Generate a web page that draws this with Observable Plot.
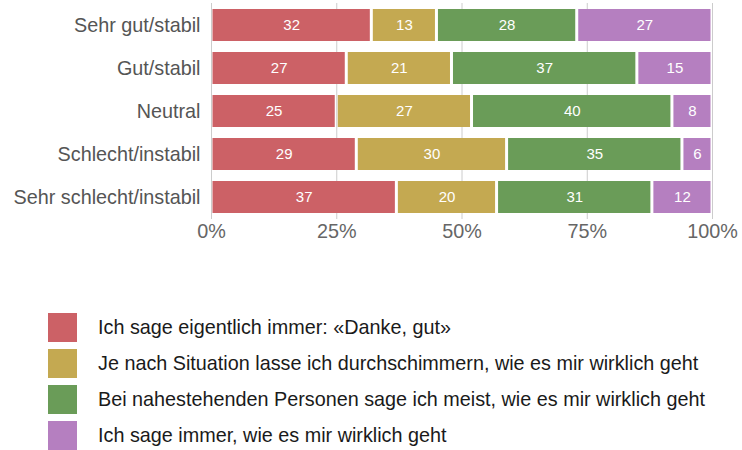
<!DOCTYPE html>
<html>
<head>
<meta charset="utf-8">
<script src="https://cdn.jsdelivr.net/npm/d3@7"></script>
<script src="https://cdn.jsdelivr.net/npm/@observablehq/plot@0.6"></script>
<style>
  html, body { margin: 0; padding: 0; background: #fff; }
  body { width: 742px; height: 450px; overflow: hidden; font-family: "Liberation Sans", Arial, Helvetica, sans-serif; }
  #legend { margin-top: 63px; margin-left: 48px; }
  .item { display: flex; align-items: center; height: 29px; margin-bottom: 7px; }
  .sw { width: 29px; height: 29px; margin-right: 21px; }
  .lab { font-size: 19.8px; color: #1a1a1a; white-space: nowrap; }
</style>
</head>
<body>
<div id="chart"></div>
<div id="legend"></div>
<script>
const categories = ["Sehr gut/stabil", "Gut/stabil", "Neutral", "Schlecht/instabil", "Sehr schlecht/instabil"];
const series = [
  "Ich sage eigentlich immer: «Danke, gut»",
  "Je nach Situation lasse ich durchschimmern, wie es mir wirklich geht",
  "Bei nahestehenden Personen sage ich meist, wie es mir wirklich geht",
  "Ich sage immer, wie es mir wirklich geht"
];
const colors = ["#cc6166", "#c4a951", "#6a9c58", "#b57fc0"];
const values = [
  [32, 13, 28, 27],
  [27, 21, 37, 15],
  [25, 27, 40, 8],
  [29, 30, 35, 6],
  [37, 20, 31, 12]
];
const tickValues = [0, 0.25, 0.5, 0.75, 1];
const tickLabels = ["0%", "25%", "50%", "75%", "100%"];

const data = [];
categories.forEach((c, i) => series.forEach((s, j) => data.push({cat: c, ser: s, value: values[i][j]})));

const stackOpts = {x: "value", y: "cat", z: "ser", offset: "normalize", order: series};

const chart = Plot.plot({
  width: 742,
  height: 250,
  marginLeft: 211,
  marginRight: 30,
  marginTop: 3,
  marginBottom: 31,
  style: {fontFamily: "Liberation Sans, Arial, Helvetica, sans-serif", background: "#fff"},
  x: {domain: [0, 1]},
  y: {domain: categories, paddingInner: 0.26, paddingOuter: 0.13, label: null},
  color: {domain: series, range: colors},
  marks: [
    Plot.gridX(tickValues, {stroke: "#cccccc", strokeOpacity: 1}),
    Plot.barX(data, Plot.stackX({...stackOpts, fill: "ser", insetLeft: 1.5, insetRight: 1.5})),
    Plot.text(data, Plot.stackX({...stackOpts, text: "value", fill: "white", fontSize: 15})),
    Plot.axisX({ticks: tickValues, tickFormat: (d) => tickLabels[tickValues.indexOf(d)], tickSize: 0, tickPadding: 4, fontSize: 19.8, color: "#666", label: null}),
    Plot.axisY({tickSize: 0, tickPadding: 11, fontSize: 19.8, color: "#555", label: null})
  ]
});
document.getElementById("chart").appendChild(chart);

const legend = document.getElementById("legend");
series.forEach((s, i) => {
  const it = document.createElement("div");
  it.className = "item";
  const sw = document.createElement("div");
  sw.className = "sw";
  sw.style.background = colors[i];
  const lab = document.createElement("span");
  lab.className = "lab";
  lab.textContent = s;
  it.appendChild(sw);
  it.appendChild(lab);
  legend.appendChild(it);
});
</script>
</body>
</html>
